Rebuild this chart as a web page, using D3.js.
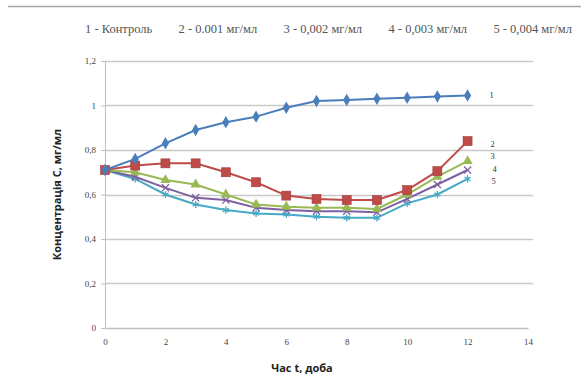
<!DOCTYPE html>
<html>
<head>
<meta charset="utf-8">
<script src="https://cdn.jsdelivr.net/npm/d3@7"></script>
<style>
  body { margin: 0; background: #fff; }
  svg { display: block; }
</style>
</head>
<body>
<div id="graph-container"></div>
<script>
// Data
var days = [0, 1, 2, 3, 4, 5, 6, 7, 8, 9, 10, 11, 12];
var control = [0.71, 0.76, 0.83, 0.89, 0.925, 0.95, 0.99, 1.02, 1.025, 1.03, 1.035, 1.04, 1.045];
var dose001 = [0.71, 0.73, 0.74, 0.74, 0.70, 0.655, 0.595, 0.58, 0.575, 0.575, 0.62, 0.705, 0.84];
var dose002 = [0.71, 0.70, 0.665, 0.645, 0.60, 0.555, 0.545, 0.54, 0.54, 0.535, 0.60, 0.68, 0.75];
var dose003 = [0.71, 0.68, 0.63, 0.585, 0.575, 0.54, 0.53, 0.525, 0.525, 0.52, 0.58, 0.645, 0.71];
var dose004 = [0.71, 0.67, 0.60, 0.555, 0.53, 0.515, 0.51, 0.50, 0.495, 0.495, 0.56, 0.60, 0.67];
var seriesNames = ["1", "2", "3", "4", "5"];
var legendItems = ["1 - Контроль", "2 - 0.001 мг/мл", "3 - 0,002 мг/мл", "4 - 0,003 мг/мл", "5 - 0,004 мг/мл"];
var xTicks = [0, 2, 4, 6, 8, 10, 12, 14];
var yTicks = [0, 0.2, 0.4, 0.6, 0.8, 1, 1.2];

var svgWidth = 581;
var svgHeight = 383;

var svg = d3.select("#graph-container")
  .append("svg")
  .attr("width", svgWidth)
  .attr("height", svgHeight);

// thin frame line at the top
svg.append("line")
  .attr("x1", 8).attr("x2", 581)
  .attr("y1", 6.5).attr("y2", 6.5)
  .attr("stroke", "#a6a6a6")
  .attr("stroke-width", 1.5);

// legend line of text, spread evenly between x=85 and x=572
var legend = svg.selectAll(".legend")
  .data(legendItems)
  .enter()
  .append("text")
  .attr("y", 33)
  .attr("font-family", "Liberation Serif, serif")
  .attr("font-size", 12.5)
  .attr("fill", "#555")
  .text(function (d) { return d; });
var widths = legend.nodes().map(function (n) { return n.getComputedTextLength(); });
var gap = (572 - 85 - d3.sum(widths)) / (widths.length - 1);
var pos = 85;
legend.attr("x", function (d, i) {
  var x = pos;
  pos += widths[i] + gap;
  return x;
});

var margin = { top: 61, left: 105 };
var chartWidth = 528 - margin.left;
var chartHeight = 328 - margin.top;

var chart = svg.append("g")
  .attr("transform", "translate(" + margin.left + "," + margin.top + ")");

var xScale = d3.scaleLinear().domain([0, 14]).range([0, chartWidth]);
var yScale = d3.scaleLinear().domain([0, 1.2]).range([chartHeight, 0]);

var fmt = function (d) { return String(d).replace(".", ","); };

// gridlines
chart.append("g")
  .selectAll("line")
  .data(yTicks.filter(function (d) { return d > 0; }))
  .enter()
  .append("line")
  .attr("x1", 0)
  .attr("x2", chartWidth + 5)
  .attr("y1", function (d) { return Math.round(yScale(d)) + 0.5; })
  .attr("y2", function (d) { return Math.round(yScale(d)) + 0.5; })
  .attr("stroke", "#c9c9c9")
  .attr("stroke-width", 1.5);

// y axis
var yAxis = d3.axisLeft(yScale).tickValues(yTicks).tickFormat(fmt).tickSize(4);
var gy = chart.append("g").call(yAxis);
gy.select(".domain").attr("stroke", "#bfbfbf");
gy.selectAll(".tick line").attr("stroke", "#bfbfbf");
gy.selectAll("text")
  .attr("font-family", "Liberation Serif, serif")
  .attr("font-size", 9)
  .attr("fill", "#444")
  .attr("x", -9);

// x axis
var xAxis = d3.axisBottom(xScale).tickValues(xTicks).tickSize(0);
var gx = chart.append("g")
  .attr("transform", "translate(0," + chartHeight + ")")
  .call(xAxis);
gx.select(".domain").attr("stroke", "#bfbfbf").attr("stroke-width", 1.5);
gx.selectAll("text")
  .attr("font-family", "Liberation Serif, serif")
  .attr("font-size", 9)
  .attr("fill", "#444")
  .attr("y", 11);

// axis titles
svg.append("text")
  .attr("transform", "translate(61," + (margin.top + chartHeight / 2) + ") rotate(-90)")
  .attr("text-anchor", "middle")
  .attr("font-family", "Open Sans, Liberation Sans, sans-serif")
  .attr("font-weight", "bold")
  .attr("font-size", 11)
  .attr("fill", "#222")
  .text("Концентрація С, мг/мл");

svg.append("text")
  .attr("x", 302)
  .attr("y", 372)
  .attr("text-anchor", "middle")
  .attr("font-family", "Open Sans, Liberation Sans, sans-serif")
  .attr("font-weight", "bold")
  .attr("font-size", 11)
  .attr("fill", "#222")
  .text("Час t, доба");

// series
var series = [
  { name: seriesNames[0], values: control, color: "#4a7ebb", marker: "diamond" },
  { name: seriesNames[1], values: dose001, color: "#be4b48", marker: "square" },
  { name: seriesNames[2], values: dose002, color: "#98b954", marker: "triangle" },
  { name: seriesNames[3], values: dose003, color: "#7d60a0", marker: "cross" },
  { name: seriesNames[4], values: dose004, color: "#46aac5", marker: "star" }
];

var line = d3.line()
  .x(function (d, i) { return xScale(days[i]); })
  .y(function (d) { return yScale(d); });

// draw bottom series first so control/red sit on top
series.slice().reverse().forEach(function (s) {
  var g = chart.append("g");
  g.append("path")
    .datum(s.values)
    .attr("d", line)
    .attr("fill", "none")
    .attr("stroke", s.color)
    .attr("stroke-width", 2);

  var pts = g.selectAll(".pt")
    .data(s.values)
    .enter()
    .append("g")
    .attr("transform", function (d, i) {
      return "translate(" + xScale(days[i]) + "," + yScale(d) + ")";
    });

  if (s.marker === "diamond") {
    pts.append("path").attr("d", d3.symbol().type(d3.symbolDiamond).size(45)).attr("fill", s.color);
  } else if (s.marker === "square") {
    pts.append("rect").attr("x", -4.5).attr("y", -4.5).attr("width", 9).attr("height", 9)
      .attr("fill", s.color).attr("stroke", "#a33c3a").attr("stroke-width", 0.6);
  } else if (s.marker === "triangle") {
    pts.append("path").attr("d", d3.symbol().type(d3.symbolTriangle).size(45)).attr("fill", s.color);
  } else if (s.marker === "cross") {
    pts.append("path").attr("d", d3.symbol().type(d3.symbolTimes).size(35))
      .attr("fill", "none").attr("stroke", s.color).attr("stroke-width", 1.3);
  } else {
    pts.append("path").attr("d", d3.symbol().type(d3.symbolAsterisk).size(35))
      .attr("fill", "none").attr("stroke", s.color).attr("stroke-width", 1.3);
  }
});

// series number labels at the right end
var labelY = [1.045, 0.825, 0.775, 0.715, 0.66];
var labelDx = [22, 23, 23, 25, 24];
chart.selectAll(".lab")
  .data(series)
  .enter()
  .append("text")
  .attr("x", function (d, i) { return xScale(12) + labelDx[i]; })
  .attr("y", function (d, i) { return yScale(labelY[i]) + 3; })
  .attr("font-family", "Liberation Serif, serif")
  .attr("font-size", 8.5)
  .attr("fill", "#333")
  .text(function (d) { return d.name; });
</script>
</body>
</html>
